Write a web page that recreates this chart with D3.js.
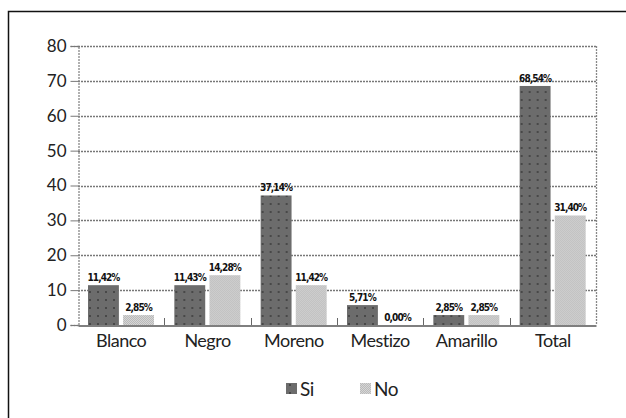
<!DOCTYPE html>
<html>
<head>
<meta charset="utf-8">
<script src="https://cdn.jsdelivr.net/npm/d3@7"></script>
<style>
  html, body { margin: 0; padding: 0; background: #fff; }
  svg { display: block; }
</style>
</head>
<body>
<svg id="chart" width="626" height="418"></svg>
<script>
const categories = ["Blanco", "Negro", "Moreno", "Mestizo", "Amarillo", "Total"];
const seriesNames = ["Si", "No"];
const siValues = [11.42, 11.42, 37.14, 5.71, 2.85, 68.54];
const noValues = [2.85, 14.28, 11.42, 0.00, 2.85, 31.40];
const siLabels = ["11,42%", "11,43%", "37,14%", "5,71%", "2,85%", "68,54%"];
const noLabels = ["2,85%", "14,28%", "11,42%", "0,00%", "2,85%", "31,40%"];
const yTicks = [0, 10, 20, 30, 40, 50, 60, 70, 80];

const svg = d3.select("#chart");
const defs = svg.append("defs");

// Pattern for "Si": dark grey with dots
const pSi = defs.append("pattern").attr("id", "pSi").attr("patternUnits", "userSpaceOnUse")
  .attr("width", 8).attr("height", 8);
pSi.append("rect").attr("width", 8).attr("height", 8).attr("fill", "#6c6c6c");
pSi.append("rect").attr("x", 3).attr("y", 3).attr("width", 2).attr("height", 2).attr("fill", "#484848");

// Pattern for "No": light grey checker
const pNo = defs.append("pattern").attr("id", "pNo").attr("patternUnits", "userSpaceOnUse")
  .attr("width", 2).attr("height", 2);
pNo.append("rect").attr("width", 2).attr("height", 2).attr("fill", "#d6d6d6");
pNo.append("rect").attr("width", 1).attr("height", 1).attr("fill", "#bababa");
pNo.append("rect").attr("x", 1).attr("y", 1).attr("width", 1).attr("height", 1).attr("fill", "#bababa");

// Outer frame
svg.append("rect").attr("x", 8.5).attr("y", 11.5).attr("width", 700).attr("height", 500)
  .attr("fill", "none").attr("stroke", "#111").attr("stroke-width", 1.5);

const plotL = 78, plotR = 596, plotT = 46, plotB = 325;
const x = d3.scaleBand().domain(categories).range([plotL, plotR]).padding(0);
const xs = d3.scaleBand().domain(seriesNames).range([10, 76]).paddingInner(0.12).paddingOuter(0);
const y = d3.scaleLinear().domain([0, 80]).range([plotB, plotT]);

// Gridlines
svg.append("g").selectAll("line").data(yTicks.filter(d => d > 0)).join("line")
  .attr("x1", plotL).attr("x2", plotR)
  .attr("y1", d => Math.round(y(d)) + 0.5).attr("y2", d => Math.round(y(d)) + 0.5)
  .attr("stroke", "#777").attr("stroke-width", 1.3).attr("stroke-dasharray", "2,1");

// Right border of plot (dotted)
svg.append("line").attr("x1", plotR + 0.5).attr("x2", plotR + 0.5).attr("y1", plotT).attr("y2", plotB)
  .attr("stroke", "#888").attr("stroke-width", 1.3).attr("stroke-dasharray", "2,1");

// Y axis
const yAxis = d3.axisLeft(y).tickValues(yTicks).tickSize(8).tickPadding(3);
const gy = svg.append("g").attr("transform", `translate(${plotL + 0.5},0)`).call(yAxis);
gy.select(".domain").attr("stroke", "#888").attr("stroke-width", 1.3).attr("stroke-dasharray", "2,1");
gy.selectAll(".tick line").attr("stroke", "#777");
gy.selectAll(".tick text").attr("font-family", "Lato, 'Open Sans', sans-serif")
  .attr("font-size", 17).attr("fill", "#222").attr("dx", -1);

// Bars
const groups = svg.append("g").selectAll("g").data(categories).join("g")
  .attr("transform", d => `translate(${x(d)},0)`);

groups.append("rect")
  .attr("x", d => xs("Si"))
  .attr("y", (d, i) => y(siValues[i]))
  .attr("width", xs.bandwidth())
  .attr("height", (d, i) => y(0) - y(siValues[i]))
  .attr("fill", "url(#pSi)");

groups.append("rect")
  .attr("x", d => xs("No"))
  .attr("y", (d, i) => y(noValues[i]))
  .attr("width", xs.bandwidth())
  .attr("height", (d, i) => y(0) - y(noValues[i]))
  .attr("fill", "url(#pNo)");

// Value labels
const lblFont = "'DejaVu Sans Condensed', 'DejaVu Sans', sans-serif";
function addLabels(key, vals, labels) {
  groups.append("text")
    .attr("x", d => xs(key) + xs.bandwidth() / 2)
    .attr("y", (d, i) => y(vals[i]) - 4)
    .attr("text-anchor", "middle").attr("font-family", lblFont).attr("font-weight", "bold")
    .attr("font-size", 10).attr("letter-spacing", -0.9).attr("fill", "#111")
    .text((d, i) => labels[i]);
}
addLabels("Si", siValues, siLabels);
addLabels("No", noValues, noLabels);

// X axis
const xAxis = d3.axisBottom(x).tickSize(0).tickPadding(9);
const gx = svg.append("g").attr("transform", `translate(0,${plotB + 0.5})`).call(xAxis);
gx.select(".domain").attr("stroke", "#555").attr("stroke-width", 1.5);
gx.selectAll(".tick text").attr("font-family", "Lato, 'Open Sans', sans-serif")
  .attr("font-size", 18).attr("fill", "#222").attr("letter-spacing", -0.5);

// Category separator ticks (pointing up)
svg.append("g").selectAll("line").data(categories.slice(1)).join("line")
  .attr("x1", d => Math.round(x(d)) + 0.5).attr("x2", d => Math.round(x(d)) + 0.5)
  .attr("y1", plotB - 7).attr("y2", plotB)
  .attr("stroke", "#666").attr("stroke-width", 1);

// Legend
const legend = svg.append("g").attr("transform", "translate(0,389)");
const legendItems = [
  { name: seriesNames[0], fill: "url(#pSi)", x: 286 },
  { name: seriesNames[1], fill: "url(#pNo)", x: 360 }
];
const li = legend.selectAll("g").data(legendItems).join("g")
  .attr("transform", d => `translate(${d.x},0)`);
li.append("rect").attr("x", 0).attr("y", -6).attr("width", 11).attr("height", 11).attr("fill", d => d.fill);
li.append("text").attr("x", 14).attr("y", 7)
  .attr("font-family", "Lato, 'Open Sans', sans-serif").attr("font-size", 19).attr("fill", "#222")
  .attr("letter-spacing", -0.5)
  .text(d => d.name);
</script>
</body>
</html>
